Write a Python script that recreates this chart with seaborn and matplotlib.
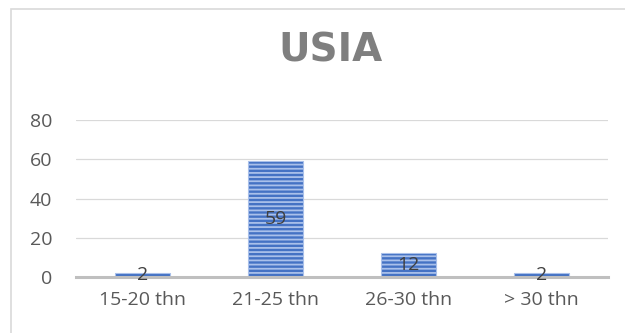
import matplotlib
matplotlib.use("Agg")
import matplotlib.pyplot as plt
import seaborn as sns
import pandas as pd
from matplotlib.patches import Rectangle

categories = ["15-20 thn", "21-25 thn", "26-30 thn", "> 30 thn"]
values = [2, 59, 12, 2]
yticks = [0, 20, 40, 60, 80]
title = "USIA"

sns.set_theme(style="white")
plt.rcParams['font.family'] = ['Open Sans', 'DejaVu Sans']
plt.rcParams['hatch.linewidth'] = 1.3

df = pd.DataFrame({"cat": categories, "val": values})

fig = plt.figure(figsize=(6.25, 3.33), dpi=100)
fig.patch.set_facecolor("white")
ax = fig.add_axes([76/625, 1-277/333, (608-76)/625, (277-120)/333])

sns.barplot(data=df, x="cat", y="val", ax=ax, color="#4472C4", width=0.41,
            saturation=1, edgecolor="#A9C0EA", linewidth=0.8)
for p in ax.patches:
    p.set_hatch("----")

ax.set_ylim(0, 80)
ax.set_yticks(yticks)
ax.set_xlabel("")
ax.set_ylabel("")
for s in ["top", "right", "left"]:
    ax.spines[s].set_visible(False)
ax.spines["bottom"].set_color("#BFBFBF")
ax.spines["bottom"].set_linewidth(2.2)
ax.yaxis.grid(True, color="#D9D9D9", linewidth=0.9)
ax.set_axisbelow(True)
ax.tick_params(axis="y", length=0, pad=17, labelsize=14, labelcolor="#595959")
ax.tick_params(axis="x", length=0, pad=10, labelsize=14, labelcolor="#595959")

for c in ax.containers:
    ax.bar_label(c, labels=[str(v) for v in values], label_type="center",
                 fontsize=14, color="#404040")

fig.text(331/625, 1-50/333, title, ha="center", va="center", fontsize=28,
         fontweight="bold", color="#7F7F7F", family="DejaVu Sans")

fig.patches.append(Rectangle((11/625, -0.1), 1.2, 1-9/333+0.1, transform=fig.transFigure,
                             fill=False, edgecolor="#D9D9D9", linewidth=1.2))

fig.savefig("out.png", dpi=100)
